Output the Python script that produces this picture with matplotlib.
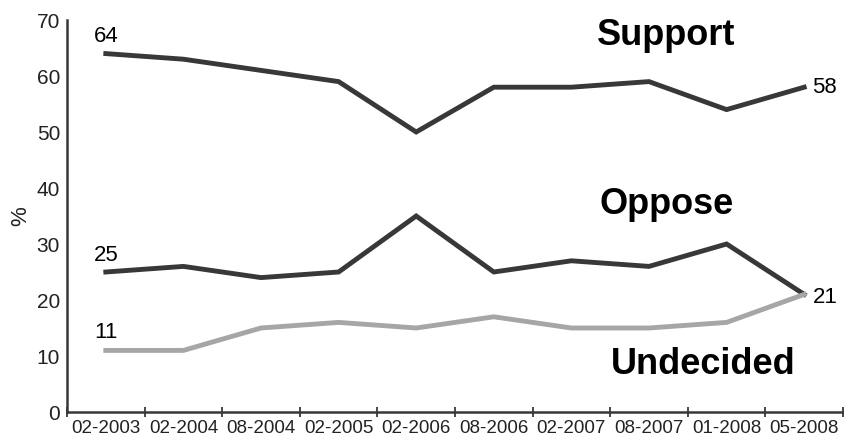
import numpy as np
import matplotlib.pyplot as plt

plt.rcParams['font.family'] = ['Liberation Sans', 'DejaVu Sans']

## Poll data

dates = ["02-2003", "02-2004", "08-2004", "02-2005", "02-2006",
         "08-2006", "02-2007", "08-2007", "01-2008", "05-2008"]
support = [64, 63, 61, 59, 50, 58, 58, 59, 54, 58]
oppose = [25, 26, 24, 25, 35, 25, 27, 26, 30, 21]
undecided = [11, 11, 15, 16, 15, 17, 15, 15, 16, 21]

dark = "#383838"
light = "#a6a6a6"

fig = plt.figure(figsize=(8.45, 4.47), dpi=100)
ax = fig.add_axes([67/845, 35/447, 776/845, 392/447])

x = np.arange(len(dates))
ax.plot(x, support, color=dark, lw=3.5, solid_joinstyle='miter')
ax.plot(x, oppose, color=dark, lw=3.5, solid_joinstyle='miter')
ax.plot(x, undecided, color=light, lw=3.5, solid_joinstyle='miter')

ax.set_xlim(-0.5, len(dates) - 0.5)
ax.set_ylim(0, 70)

# category labels at centres, tick marks on the boundaries
ax.set_xticks(x)
ax.set_xticklabels(dates, fontsize=13.5, color="#222222")
ax.tick_params(axis='x', which='major', length=0, pad=6)
ax.set_xticks(np.arange(-0.5, len(dates)), minor=True)
ax.tick_params(axis='x', which='minor', direction='inout', length=7, width=1.3, color=dark)

ax.set_yticks(range(0, 71, 10))
ax.tick_params(axis='y', length=0, labelsize=15, labelcolor="#222222", pad=5)
ax.set_ylabel("%", fontsize=16, color="#222222", labelpad=4)

for s in ['top', 'right']:
    ax.spines[s].set_visible(False)
for s in ['left', 'bottom']:
    ax.spines[s].set_color(dark)
    ax.spines[s].set_linewidth(1.8)

# end labels
ax.annotate(str(support[0]), (x[0], support[0]), xytext=(0, 5), textcoords='offset points',
            ha='center', va='bottom', fontsize=16)
ax.annotate(str(oppose[0]), (x[0], oppose[0]), xytext=(0, 4), textcoords='offset points',
            ha='center', va='bottom', fontsize=16)
ax.annotate(str(undecided[0]), (x[0], undecided[0]), xytext=(0, 5), textcoords='offset points',
            ha='center', va='bottom', fontsize=16)
ax.annotate(str(support[-1]), (x[-1], support[-1]), xytext=(6, 0), textcoords='offset points',
            ha='left', va='center', fontsize=16)
ax.annotate(str(oppose[-1]), (x[-1], oppose[-1]), xytext=(6, -2), textcoords='offset points',
            ha='left', va='center', fontsize=16)

# series names
ax.text(7.22, 67.3, "Support", ha='center', va='center', fontsize=26, fontweight='bold')
ax.text(7.23, 37.1, "Oppose", ha='center', va='center', fontsize=26, fontweight='bold')
ax.text(7.7, 8.4, "Undecided", ha='center', va='center', fontsize=26, fontweight='bold')

fig.savefig("out.png", dpi=100)
